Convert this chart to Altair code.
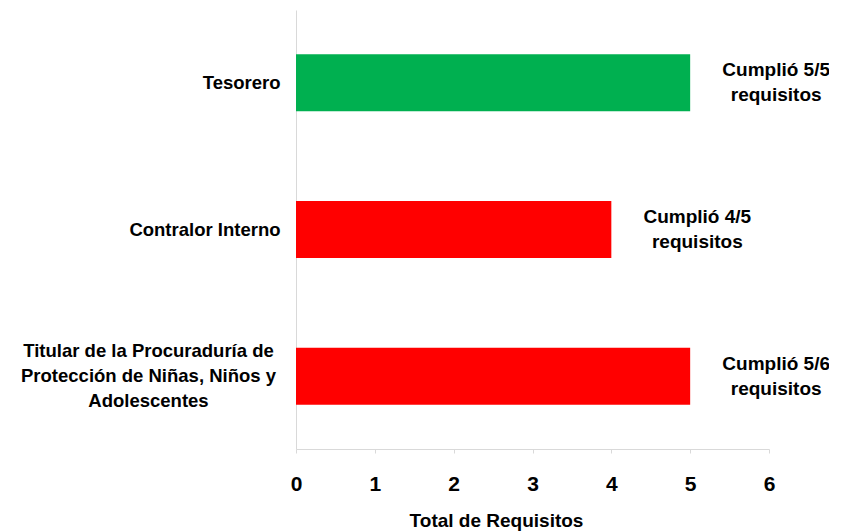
import altair as alt
import pandas as pd

categorias = [
    "Tesorero",
    "Contralor Interno",
    "Titular de la Procuraduría de|Protección de Niñas, Niños y|Adolescentes",
]
cumplidos = [5, 4, 5]
requeridos = [5, 5, 6]

df = pd.DataFrame({
    "cargo": categorias,
    "cumplidos": cumplidos,
    "requeridos": requeridos,
})
df["estado"] = ["Completo" if c == r else "Incompleto" for c, r in zip(cumplidos, requeridos)]
df["etiqueta"] = [f"Cumplió {c}/{r}\nrequisitos" for c, r in zip(cumplidos, requeridos)]

FONT = "Liberation Sans"
titular = categorias[2]
cond = f"datum.value == '{titular}'"

y_enc = alt.Y(
    "cargo:N",
    sort=categorias,
    title=None,
    scale=alt.Scale(paddingInner=0.61, paddingOuter=0.3),
    axis=alt.Axis(
        labelExpr="split(datum.label, '|')",
        labelFont=FONT,
        labelFontSize=18.5,
        labelFontWeight="bold",
        labelColor="#000000",
        labelLineHeight=25,
        labelLimit=400,
        labelAlign={"condition": {"test": cond, "value": "center"}, "value": "right"},
        labelPadding={"condition": {"test": cond, "value": 148}, "value": 16},
        labelOffset={"condition": {"test": cond, "value": -25}, "value": 0},
        labelBaseline="middle",
        ticks=False,
        domainColor="#D9D9D9",
        domainWidth=1,
        grid=False,
    ),
)

x_enc = alt.X(
    "cumplidos:Q",
    scale=alt.Scale(domain=[0, 6], nice=False),
    axis=alt.Axis(
        values=[0, 1, 2, 3, 4, 5, 6],
        format="d",
        title="Total de Requisitos",
        titleFont=FONT,
        titleFontSize=19,
        titleFontWeight="bold",
        titleColor="#000000",
        titleX=200,
        titleY=71,
        titleAlign="center",
        titleBaseline="middle",
        labelFont=FONT,
        labelFontSize=21,
        labelFontWeight="bold",
        labelColor="#000000",
        labelPadding=20,
        labelFlush=False,
        tickSize=4,
        tickColor="#D9D9D9",
        domainColor="#D9D9D9",
        grid=False,
    ),
)

base = alt.Chart(df)

bars = base.mark_bar(size=57).encode(
    y=y_enc,
    x=x_enc,
    color=alt.Color(
        "estado:N",
        scale=alt.Scale(domain=["Completo", "Incompleto"], range=["#00B050", "#FF0000"]),
        legend=None,
    ),
)

textos = base.mark_text(
    align="center",
    baseline="middle",
    dx=86,
    dy=-12.5,
    font=FONT,
    fontSize=19,
    fontWeight="bold",
    color="#000000",
    lineBreak="\n",
    lineHeight=25,
).encode(
    y=alt.Y("cargo:N", sort=categorias),
    x=alt.X("cumplidos:Q"),
    text="etiqueta:N",
)

chart = (
    alt.layer(bars, textos)
    .properties(
        width=473,
        height=439,
        autosize=alt.AutoSizeParams(type="none"),
        padding={"left": 288, "top": 2, "right": 60, "bottom": 82},
        background="#FFFFFF",
    )
    .configure_view(stroke=None)
)

chart.save("out.html", embed_options={"renderer": "svg", "actions": False})
